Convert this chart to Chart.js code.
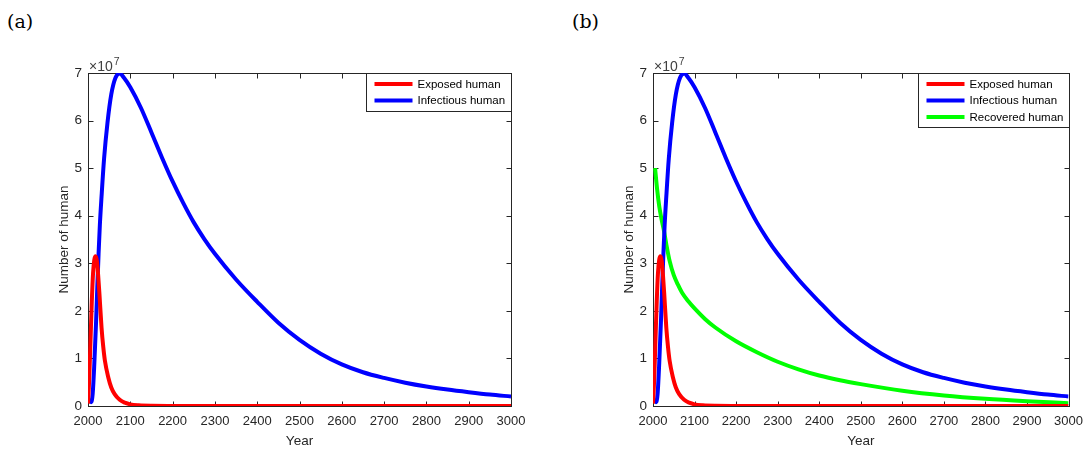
<!DOCTYPE html>
<html><head><meta charset="utf-8">
<script src="https://cdn.jsdelivr.net/npm/chart.js@4"></script>
<style>
html,body{margin:0;padding:0;background:#fff;width:1091px;height:449px;overflow:hidden;}
.panel{position:absolute;top:0;height:449px;}
#wa{left:0;width:540px;}
#wb{left:565px;width:526px;}
.lab{position:absolute;top:8px;font-family:"DejaVu Serif",serif;font-size:19px;color:#000;line-height:26px;}
</style></head><body>
<div class="lab" style="left:7px">(a)</div>
<div class="lab" style="left:572px">(b)</div>
<div class="panel" id="wa"><canvas id="ca" width="540" height="449"></canvas></div>
<div class="panel" id="wb"><canvas id="cb" width="526" height="449"></canvas></div>
<script>
// ---- data (values in units of 10^7 humans) ----
const xTickValues = [2000,2100,2200,2300,2400,2500,2600,2700,2800,2900,3000];
const yTickValues = [0,1,2,3,4,5,6,7];
const yExponentLabel = '7';

const exposedYears  = [2000,2003,2006,2009,2012,2015,2018,2021,2024,2027,2032,2036,2040,2048,2055,2063,2075,2087,2100,2120,2150,2200,2300,2500,3000];
const exposedValues = [0.05,0.6,1.4,2.2,2.8,3.08,3.15,3.05,2.75,2.36,1.65,1.25,0.95,0.6,0.39,0.25,0.13,0.07,0.035,0.015,0.005,0.002,0.001,0.001,0.001];

const infectiousYears  = [2003,2007,2011,2015,2019,2022,2025,2028,2032,2038,2046,2055,2065,2075,2085,2100,2125,2150,2175,2200,2225,2250,2275,2300,2350,2400,2450,2500,2550,2600,2650,2700,2750,2800,2850,2900,2950,3000];
const infectiousValues = [0.15,0.08,0.25,0.9,1.75,2.5,3.2,3.8,4.4,5.2,5.95,6.55,6.9,6.99,6.9,6.7,6.27,5.75,5.22,4.72,4.27,3.86,3.51,3.2,2.66,2.19,1.75,1.39,1.10,0.875,0.71,0.59,0.49,0.41,0.345,0.29,0.24,0.20];

const recoveredYears  = [2005,2010,2015,2020,2026,2032,2040,2050,2060,2070,2085,2100,2125,2150,2200,2250,2300,2350,2400,2450,2500,2600,2700,2800,2900,3000];
const recoveredValues = [5.0,4.55,4.2,3.95,3.7,3.4,3.05,2.75,2.55,2.38,2.2,2.05,1.83,1.65,1.36,1.13,0.93,0.77,0.64,0.54,0.46,0.32,0.22,0.15,0.10,0.06];

const seriesLabels = ['Exposed human','Infectious human','Recovered human'];
const seriesColors = ['#ff0000','#0000ff','#00ff00'];

function pts(xs, ys){ return xs.map((x,i)=>({x:x, y:ys[i]})); }

const AXC = '#262626';
const SANS = '"Liberation Sans", Arial, Helvetica, sans-serif';

const matlabAxes = {
  id: 'matlabAxes',
  beforeDatasetsDraw(chart){
    const {ctx, chartArea:a, scales:{x,y}} = chart;
    ctx.save();
    ctx.strokeStyle = AXC; ctx.lineWidth = 1;
    const l = Math.round(a.left)+0.5, r = Math.round(a.right)+0.5, t = Math.round(a.top)+0.5, b = Math.round(a.bottom)+0.5;
    ctx.strokeRect(l, t, r-l, b-t);
    ctx.beginPath();
    const L = 5;
    x.ticks.forEach(tk=>{ const px = Math.round(x.getPixelForValue(tk.value))+0.5;
      ctx.moveTo(px,b); ctx.lineTo(px,b-L); ctx.moveTo(px,t); ctx.lineTo(px,t+L); });
    y.ticks.forEach(tk=>{ const py = Math.round(y.getPixelForValue(tk.value))+0.5;
      ctx.moveTo(l,py); ctx.lineTo(l+L,py); ctx.moveTo(r,py); ctx.lineTo(r-L,py); });
    ctx.stroke();
    ctx.restore();
  },
  afterDraw(chart){
    const {ctx, chartArea:a} = chart;
    ctx.save();
    // multiplier label
    ctx.fillStyle = '#404040';
    ctx.textBaseline = 'middle';
    ctx.textAlign = 'left';
    ctx.font = '14px ' + SANS;
    const base = '\u00d710';
    ctx.fillText(base, a.left + 1, a.top - 6);
    const w = ctx.measureText(base).width;
    ctx.font = '10.5px ' + SANS;
    ctx.fillText(yExponentLabel, a.left + 2 + w, a.top - 11);
    // legend (MATLAB style box in the top-right corner)
    const ds = chart.data.datasets;
    ctx.font = '11.5px ' + SANS;
    let tw = 0;
    ds.forEach(d=>{ tw = Math.max(tw, ctx.measureText(d.label).width); });
    const boxW = Math.round(51 + tw + 6);
    const boxH = Math.round(11 + (ds.length-1)*16.5 + 10);
    const bx = Math.round(a.right) - boxW + 0.5, by = Math.round(a.top) + 0.5;
    ctx.fillStyle = '#fff';
    ctx.fillRect(bx, by, boxW, boxH);
    ctx.strokeStyle = AXC; ctx.lineWidth = 1;
    ctx.strokeRect(bx, by, boxW, boxH);
    ds.forEach((d,i)=>{
      const cy = Math.round(a.top) + 11 + i*16.5;
      ctx.strokeStyle = d.borderColor; ctx.lineWidth = 4;
      ctx.beginPath(); ctx.moveTo(bx+8, cy); ctx.lineTo(bx+46, cy); ctx.stroke();
      ctx.fillStyle = '#000';
      ctx.fillText(d.label, bx+51, cy+0.5);
    });
    ctx.restore();
  }
};

function makeChart(id, datasets, rightPad){
  return new Chart(document.getElementById(id), {
    type: 'line',
    data: { datasets: datasets },
    options: {
      responsive: false,
      animation: false,
      layout: { padding: { left: 0, right: rightPad, top: 73, bottom: 0 } },
      elements: { point: { radius: 0 }, line: { borderWidth: 4, cubicInterpolationMode: 'monotone' } },
      plugins: { legend: { display: false }, tooltip: { enabled: false } },
      scales: {
        x: {
          type: 'linear', min: 2000, max: 3000,
          afterBuildTicks: s => { s.ticks = xTickValues.map(v=>({value:v})); },
          afterFit: s => { s.height = 43; },
          grid: { display: false, drawTicks: false },
          border: { display: false },
          ticks: { color: AXC, font: { family: SANS, size: 13 }, padding: 8, maxRotation: 0, autoSkip: false, callback: v => String(v) },
          title: { display: true, text: 'Year', color: AXC, font: { family: SANS, size: 13.5 }, padding: { top: 0, bottom: 0 } }
        },
        y: {
          type: 'linear', min: 0, max: 7,
          afterBuildTicks: s => { s.ticks = yTickValues.map(v=>({value:v})); },
          afterFit: s => { s.width = 88; },
          grid: { display: false, drawTicks: false },
          border: { display: false },
          ticks: { color: AXC, font: { family: SANS, size: 13.5 }, padding: 6, callback: v => String(v) },
          title: { display: true, text: 'Number of human', color: AXC, font: { family: SANS, size: 13.5 }, padding: { top: 56, bottom: 0 } }
        }
      }
    },
    plugins: [matlabAxes]
  });
}

function ds(i, xs, ys){
  return { label: seriesLabels[i], data: pts(xs, ys), borderColor: seriesColors[i], backgroundColor: seriesColors[i], fill: false };
}

makeChart('ca', [
  ds(0, exposedYears, exposedValues),
  ds(1, infectiousYears, infectiousValues)
], 29);

makeChart('cb', [
  ds(0, exposedYears, exposedValues),
  ds(1, infectiousYears, infectiousValues),
  ds(2, recoveredYears, recoveredValues)
], 16);
</script>
</body></html>
